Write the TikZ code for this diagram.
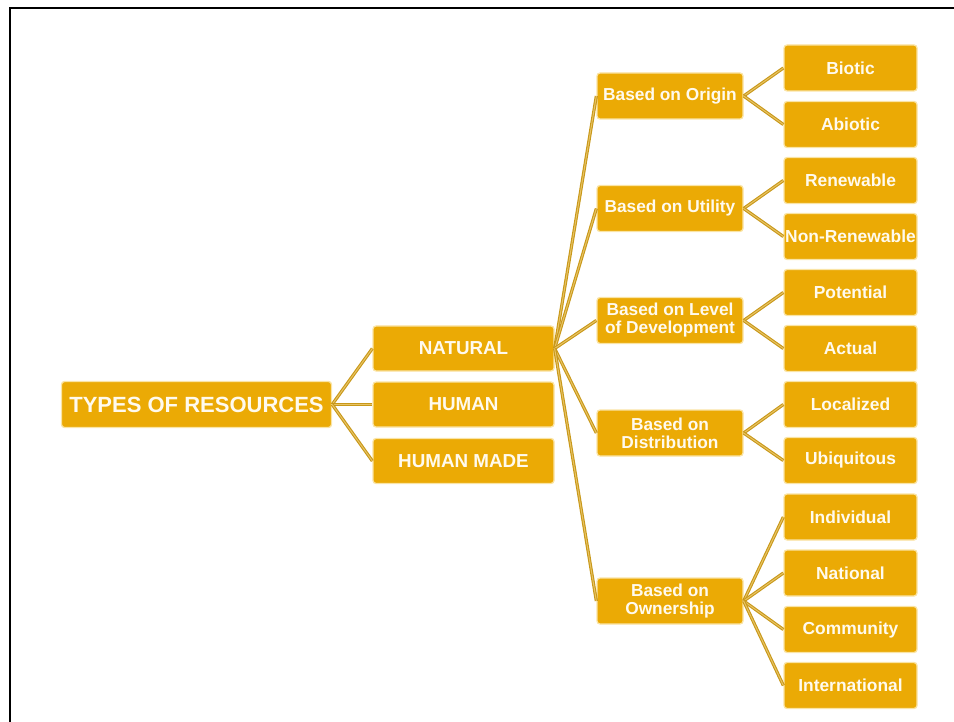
\documentclass[tikz,border=0pt]{standalone}
\usepackage{fontspec}
\setmainfont{Liberation Sans}
\definecolor{boxfill}{RGB}{235,170,5}
\definecolor{boxedge}{RGB}{250,228,165}
\definecolor{linkdark}{RGB}{200,152,25}
\definecolor{linklight}{RGB}{232,195,100}
\definecolor{textcol}{RGB}{255,250,238}
\tikzset{
  box/.style={draw=boxedge, line width=1.3pt, fill=boxfill, rounded corners=3pt,
    text=textcol, inner sep=0pt, align=center, minimum height=46pt},
  rootbox/.style={box, minimum width=270pt, font=\fontsize{22}{24}\selectfont\bfseries},
  lvlone/.style={box, minimum width=181pt, minimum height=45pt, font=\fontsize{18.8}{20}\selectfont\bfseries},
  lvltwo/.style={box, minimum width=146pt, font=\fontsize{17.3}{18}\selectfont\bfseries},
  lvlthree/.style={box, minimum width=133pt, font=\fontsize{17.4}{18}\selectfont\bfseries},
  link/.style={draw=linkdark, double=linklight, double distance=1pt, line width=1.1pt},
  frame/.style={draw=black, line width=2pt}
}
\begin{document}
\begin{tikzpicture}[x=1pt,y=-1pt]
  \useasboundingbox (0,0) rectangle (954,722);
  % page frame
  \draw[frame] (10,722) -- (10,8) -- (954,8);

  % root and first level
  \node[rootbox] (root) at (196.5,404.5) {TYPES OF RESOURCES};
  \node[lvlone] (nat) at (463.5,348.5) {NATURAL};
  \node[lvlone] (hum) at (463.5,404.5) {HUMAN};
  \node[lvlone] (hmade) at (463.5,461) {HUMAN MADE};

  % classification criteria
  \node[lvltwo] (orig) at (670,96) {Based on Origin};
  \node[lvltwo] (util) at (670,208.5) {Based on Utility};
  \node[lvltwo] (devel) at (670,320.5) {Based on Level\\of Development};
  \node[lvltwo] (distr) at (670,433) {Based on\\Distribution};
  \node[lvltwo] (owner) at (670,601) {Based on\\Ownership};

  % leaf categories
  \node[lvlthree] (biotic) at (850.5,68) {Biotic};
  \node[lvlthree] (abiotic) at (850.5,124.5) {Abiotic};
  \node[lvlthree] (renew) at (850.5,180.5) {Renewable};
  \node[lvlthree] (nonrenew) at (850.5,236.5) {Non-Renewable};
  \node[lvlthree] (potent) at (850.5,292.5) {Potential};
  \node[lvlthree] (actual) at (850.5,348.5) {Actual};
  \node[lvlthree] (local) at (850.5,404.5) {Localized};
  \node[lvlthree] (ubiq) at (850.5,460.5) {Ubiquitous};
  \node[lvlthree] (indiv) at (850.5,517) {Individual};
  \node[lvlthree] (natl) at (850.5,573) {National};
  \node[lvlthree] (commun) at (850.5,629.5) {Community};
  \node[lvlthree] (intl) at (850.5,685.5) {International};

  % connectors
  \foreach \c in {nat,hum,hmade} \draw[link] (root.east) -- (\c.west);
  \foreach \c in {orig,util,devel,distr,owner} \draw[link] (nat.east) -- (\c.west);
  \foreach \c in {biotic,abiotic} \draw[link] (orig.east) -- (\c.west);
  \foreach \c in {renew,nonrenew} \draw[link] (util.east) -- (\c.west);
  \foreach \c in {potent,actual} \draw[link] (devel.east) -- (\c.west);
  \foreach \c in {local,ubiq} \draw[link] (distr.east) -- (\c.west);
  \foreach \c in {indiv,natl,commun,intl} \draw[link] (owner.east) -- (\c.west);
\end{tikzpicture}
\end{document}
